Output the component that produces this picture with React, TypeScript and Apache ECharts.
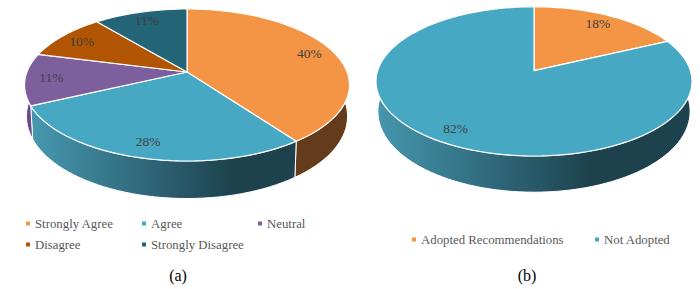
import React, { useEffect, useRef } from "react";
import * as echarts from "echarts";

const aCategories = ["Strongly Agree", "Agree", "Neutral", "Disagree", "Strongly Disagree"];
const aValues = [40, 28, 11, 10, 11];
const bCategories = ["Adopted Recommendations", "Not Adopted"];
const bValues = [18, 82];
const captions = ["(a)", "(b)"];

const SERIF = "'Liberation Serif', 'Times New Roman', serif";
const TOPS_A = ["#f49546", "#47a8c3", "#7e5f9e", "#b25503", "#246477"];
const TOPS_B = ["#f49546", "#47a8c3"];

type Geo = { cx: number; cy: number; d: number; A: number; c: number; d0: number; d1: number; gx0: number; gx1: number };
const GEO_A: Geo = { cx: 187, cy: 72, d: 160.1, A: 73.8, c: -0.171, d0: 30, d1: 7.5, gx0: 35, gx1: 232 };
const GEO_B: Geo = { cx: 534, cy: 70.7, d: 156.4, A: 73.1, c: -0.143, d0: 29, d1: 7.2, gx0: 376, gx1: 590 };

function project(g: Geo, theta: number, r: number) {
  const u = r * Math.sin(theta);
  const v = r * -Math.cos(theta);
  const den = 1 + g.c * v;
  return { x: g.cx + (g.d * u) / den, y: g.cy + (g.A * v) / den, v };
}

function arc(g: Geo, start: number, end: number) {
  const pts: { x: number; y: number; v: number }[] = [];
  const steps = Math.max(2, Math.ceil((end - start) * 1.5));
  for (let i = 0; i <= steps; i++) {
    pts.push(project(g, ((start + ((end - start) * i) / steps) / 100) * Math.PI * 2, 1));
  }
  return pts;
}

function wallFill(g: Geo, base: string) {
  if (base === "#47a8c3") {
    return new echarts.graphic.LinearGradient(
      g.gx0, 0, g.gx1, 0,
      [
        { offset: 0, color: "#4697af" },
        { offset: 1, color: "#1d424e" },
      ],
      true
    );
  }
  if (base === "#f49546") return "#643b1b";
  if (base === "#7e5f9e") return "#68498a";
  if (base === "#b25503") return "#6b3402";
  return "#163c48";
}

function panelSeries(id: string, g: Geo, names: string[], values: number[], colors: string[]) {
  const total = values.reduce((s, v) => s + v, 0);
  let acc = 0;
  const rows = values.map((v) => {
    const row = [(v / total) * 100, (acc / total) * 100, v];
    acc += v;
    return row;
  });
  const walls = {
    type: "custom",
    name: `${id}-walls`,
    coordinateSystem: "none",
    silent: true,
    z: 1,
    data: rows,
    renderItem: (_: any, api: any) => {
      const share = api.value(0);
      const start = api.value(1);
      const pts = arc(g, start, start + share);
      const top = pts.map((p) => [p.x, p.y]);
      const bottom = pts
        .map((p) => [g.cx + (p.x - g.cx) * 0.988, p.y + g.d0 + g.d1 * p.v])
        .reverse();
      const base = colors[rows.findIndex((r) => r[1] === start)];
      return {
        type: "polygon",
        shape: { points: top.concat(bottom) },
        style: { fill: wallFill(g, base), stroke: "#ffffff", lineWidth: 1 },
      };
    },
  };
  const tops = names.map((name, i) => ({
    type: "custom",
    name,
    coordinateSystem: "none",
    silent: true,
    z: 2,
    itemStyle: { color: colors[i] },
    data: [rows[i]],
    renderItem: (_: any, api: any) => {
      const share = api.value(0);
      const start = api.value(1);
      const pts = arc(g, start, start + share).map((p) => [p.x, p.y]);
      const mid = project(g, ((start + share / 2) / 100) * Math.PI * 2, 0.84);
      return {
        type: "group",
        children: [
          {
            type: "polygon",
            shape: { points: [[g.cx, g.cy], ...pts] },
            style: { fill: colors[i], stroke: "#ffffff", lineWidth: 1.2, lineJoin: "round" },
          },
          {
            type: "text",
            z2: 10,
            style: {
              x: mid.x,
              y: mid.y,
              text: `${api.value(2)}%`,
              fill: "#404040",
              font: `13.5px ${SERIF}`,
              align: "center",
              verticalAlign: "middle",
            },
          },
        ],
      };
    },
  }));
  return [walls, ...tops];
}

function legendItem(name: string, left: number, top: number) {
  return {
    data: [name],
    left,
    top,
    padding: 0,
    icon: "rect",
    itemWidth: 4,
    itemHeight: 4,
    selectedMode: false,
    textStyle: { fontFamily: SERIF, fontSize: 12.8, color: "#595959" },
  };
}

export default function App() {
  const ref = useRef<HTMLDivElement>(null);
  useEffect(() => {
    document.body.style.margin = "0";
    const chart = echarts.init(ref.current!, undefined, { renderer: "svg" });
    chart.setOption({
      animation: false,
      backgroundColor: "#ffffff",
      legend: [
        legendItem(aCategories[0], 26, 217),
        legendItem(aCategories[1], 142, 217),
        legendItem(aCategories[2], 258, 217),
        legendItem(aCategories[3], 26, 238),
        legendItem(aCategories[4], 142, 238),
        legendItem(bCategories[0], 412, 233),
        legendItem(bCategories[1], 595, 233),
      ],
      graphic: [
        { type: "text", x: 178, y: 275, style: { text: captions[0], fill: "#000", font: `16px ${SERIF}`, align: "center", verticalAlign: "middle" } },
        { type: "text", x: 527, y: 275, style: { text: captions[1], fill: "#000", font: `16px ${SERIF}`, align: "center", verticalAlign: "middle" } },
      ],
      series: [
        ...panelSeries("a", GEO_A, aCategories, aValues, TOPS_A),
        ...panelSeries("b", GEO_B, bCategories, bValues, TOPS_B),
      ],
    });
    return () => chart.dispose();
  }, []);
  return <div ref={ref} style={{ width: 700, height: 289 }} />;
}
